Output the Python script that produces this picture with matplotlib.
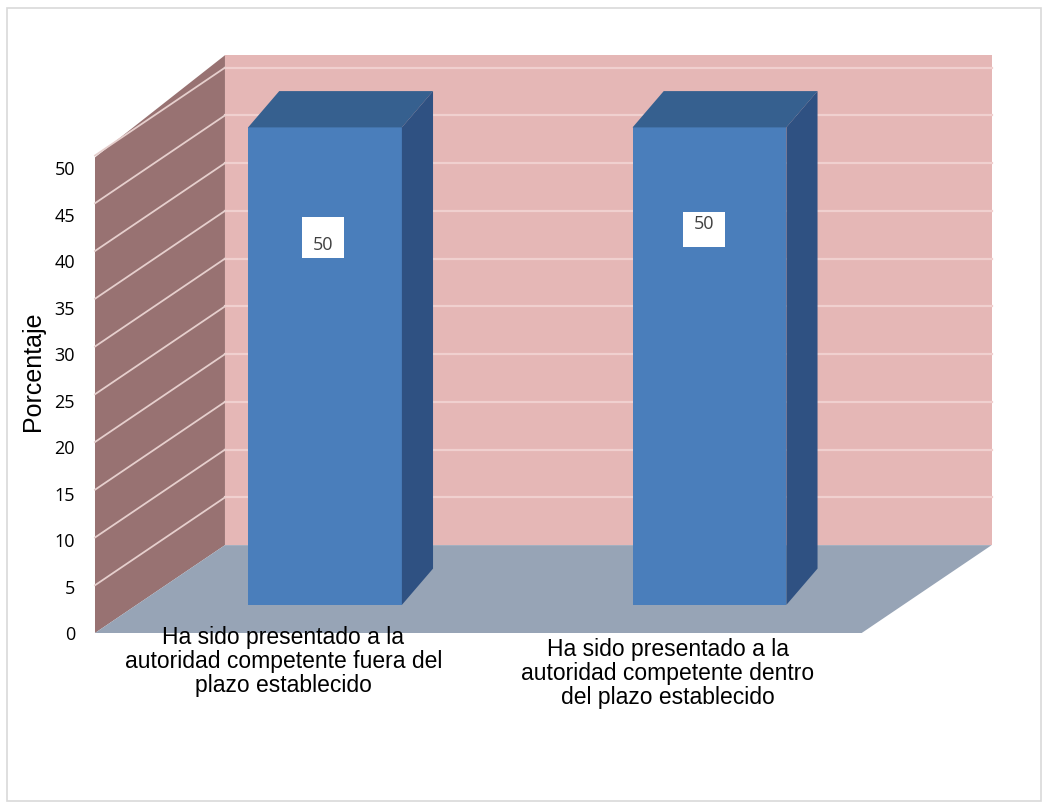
#!/usr/bin/env python3
"""Pseudo-3D column chart: Porcentaje por categoria (Excel-style)."""
import matplotlib
matplotlib.use('Agg')
import matplotlib.pyplot as plt
from matplotlib.patches import Polygon, Rectangle

categories = [
    'Ha sido presentado a la\nautoridad competente fuera del\nplazo establecido',
    'Ha sido presentado a la\nautoridad competente dentro\ndel plazo establecido',
]
values = [50, 50]
ticks = [0, 5, 10, 15, 20, 25, 30, 35, 40, 45, 50]

# 3D look (style only)
DX, DY = 0.338, 9.2          # full floor depth offset (category units, value units)
WALL_H_FRONT, WALL_H_BACK = 49.8, 51.3
X_LEFT, X_RIGHT = -0.49, 1.504
BAR_W = 0.40
D0 = 0.32                     # bar front depth (fraction of floor depth)
BAR_DX, BAR_DY = 0.081, 3.8   # bar depth offset

C_BACK = '#E5B7B6'
C_LEFT = '#987272'
C_FLOOR = '#97A4B6'
C_FRONT = '#4A7EBB'
C_SIDE = '#2F5182'
C_TOP = '#36608F'

fig = plt.figure(figsize=(10.5, 8.08), dpi=100)
ax = fig.add_axes([0, 0, 1, 1])
ax.set_xlim(-283.4 / 384.5, (1050 - 283.4) / 384.5)
ax.set_ylim(-(808 - 633) / 9.55, 633 / 9.55)
ax.axis('off')

# walls and floor
ax.add_patch(Rectangle((X_LEFT + DX, DY), X_RIGHT - X_LEFT, WALL_H_BACK,
                       facecolor=C_BACK, edgecolor='none', zorder=1))
ax.add_patch(Polygon([(X_LEFT, 0), (X_LEFT, WALL_H_FRONT),
                      (X_LEFT + DX, DY + WALL_H_BACK), (X_LEFT + DX, DY)],
                     closed=True, facecolor=C_LEFT, edgecolor='none', zorder=1))
ax.add_patch(Polygon([(X_LEFT, 0), (X_LEFT + DX, DY), (X_RIGHT + DX, DY),
                      (X_RIGHT, 0)], closed=True,
                     facecolor=C_FLOOR, edgecolor='none', zorder=2))

for t in ticks[1:]:
    ax.plot([X_LEFT + DX, X_RIGHT + DX], [DY + t, DY + t],
            color='#F0D0CF', lw=1.6, zorder=1.5)
    ax.plot([X_LEFT, X_LEFT + DX], [t, DY + t],
            color='#E6CFCD', lw=1.3, zorder=1.5)

# bars: front face via bar(), then top and side faces
xs = [i + D0 * DX for i in range(len(values))]
ax.bar(xs, values, width=BAR_W, bottom=D0 * DY, color=C_FRONT, zorder=3)
for x, v in zip(xs, values):
    x0, x1 = x - BAR_W / 2, x + BAR_W / 2
    y0, y1 = D0 * DY, D0 * DY + v
    ax.add_patch(Polygon([(x0, y1), (x1, y1), (x1 + BAR_DX, y1 + BAR_DY),
                          (x0 + BAR_DX, y1 + BAR_DY)], closed=True,
                         facecolor=C_TOP, edgecolor='none', zorder=3))
    ax.add_patch(Polygon([(x1, y0), (x1, y1), (x1 + BAR_DX, y1 + BAR_DY),
                          (x1 + BAR_DX, y0 + BAR_DY)], closed=True,
                         facecolor=C_SIDE, edgecolor='none', zorder=3))

# data labels (white boxes)
label_box = [(-0.005, 39.3, 4.3, 40.6), (-0.015, 40.4, 3.7, 42.8)]
for x, v, (off, yb, hb, yt) in zip(xs, values, label_box):
    ax.add_patch(Rectangle((x + off - 0.055, yb), 0.11, hb,
                           facecolor='white', edgecolor='none', zorder=4))
    ax.text(x + off, yt, str(v), ha='center', va='center', fontsize=13,
            color='#404040', family='Open Sans', zorder=5)

# category labels
label_top = [0.75, -0.55]
for i, (cat, yt) in enumerate(zip(categories, label_top)):
    ax.text(i, yt, cat, ha='center', va='top', fontsize=16.5,
            family='Liberation Sans', linespacing=1.05, zorder=5)

# value axis tick labels
tax = fig.add_axes([75 / 1050, (808 - 633) / 808, 0.001, (633 - 168) / 808])
tax.set_ylim(0, 50)
tax.set_yticks(ticks)
tax.set_yticklabels([str(t) for t in ticks], family='Open Sans', fontsize=13)
tax.tick_params(length=0, pad=0)
tax.set_xticks([])
for s in tax.spines.values():
    s.set_visible(False)
tax.patch.set_alpha(0)

fig.text(33 / 1050, 1 - 371 / 808, 'Porcentaje', rotation=90, ha='center',
         va='center', fontsize=18, family='Liberation Sans')

# outer chart border
fig.patches.append(Rectangle((7 / 1050, 7 / 808), 1034 / 1050, 793 / 808,
                             transform=fig.transFigure, fill=False,
                             edgecolor='#D9D9D9', lw=1.2))

fig.savefig('out.png', dpi=100)
